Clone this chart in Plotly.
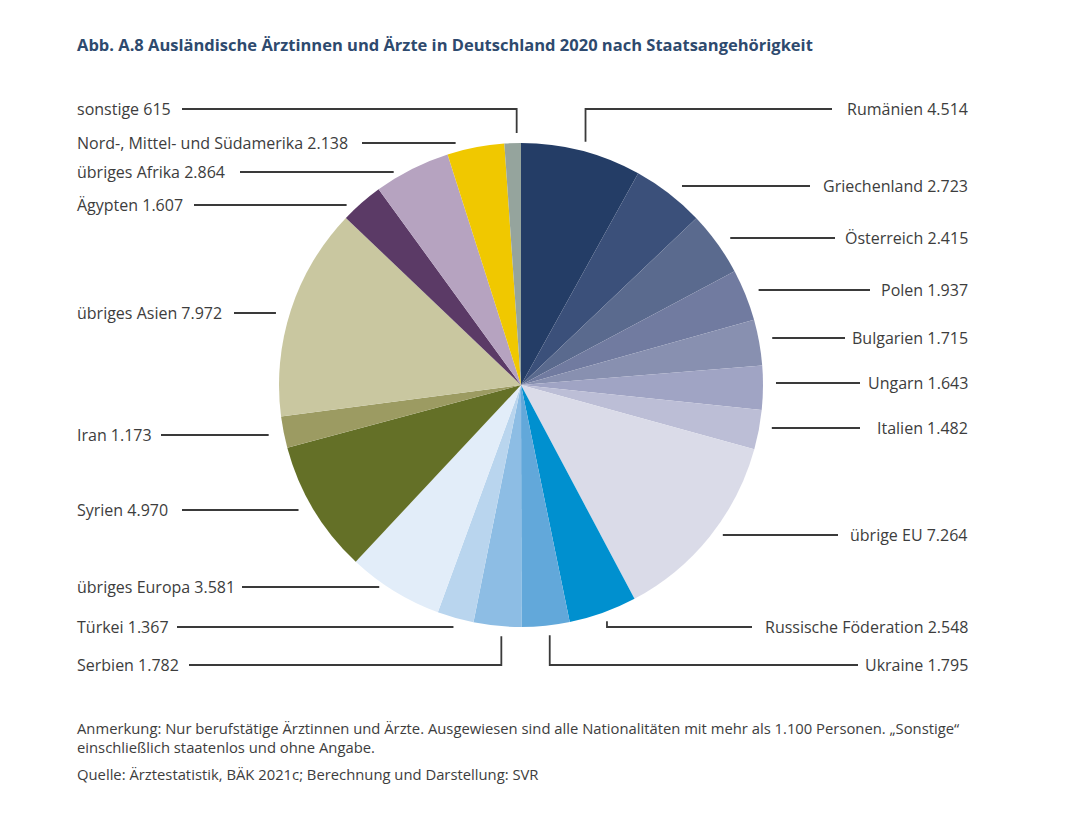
import math
import plotly.graph_objects as go

# ---------------- data ----------------
categories = [
    "Rumänien", "Griechenland", "Österreich", "Polen", "Bulgarien", "Ungarn",
    "Italien", "übrige EU", "Russische Föderation", "Ukraine", "Serbien",
    "Türkei", "übriges Europa", "Syrien", "Iran", "übriges Asien", "Ägypten",
    "übriges Afrika", "Nord-, Mittel- und Südamerika", "sonstige",
]
values = [4514, 2723, 2415, 1937, 1715, 1643, 1482, 7264, 2548, 1795, 1782,
          1367, 3581, 4970, 1173, 7972, 1607, 2864, 2138, 615]
value_labels = ["4.514", "2.723", "2.415", "1.937", "1.715", "1.643", "1.482",
                "7.264", "2.548", "1.795", "1.782", "1.367", "3.581", "4.970",
                "1.173", "7.972", "1.607", "2.864", "2.138", "615"]

# ---------------- styles / layout ----------------
colors = ["#243d66", "#3b507a", "#5a6a8e", "#717ba0", "#8890b0", "#a0a4c4",
          "#bcbed6", "#dadbe8", "#0090cf", "#62a8da", "#8dbde4", "#b9d5ee",
          "#e2edf9", "#647027", "#9c9b62", "#c9c7a0", "#5b3a66", "#b6a3c0",
          "#f0c800", "#95a49d"]
side = ["R", "R", "R", "R", "R", "R", "R", "R", "R", "R",
        "L", "L", "L", "L", "L", "L", "L", "L", "L", "L"]
leader = ["V", "H", "H", "H", "H", "H", "H", "H", "V", "V",
          "V", "H", "H", "H", "H", "H", "H", "H", "H", "V"]
label_y = [109, 186, 238, 290, 338, 383, 428, 535, 627, 665,
           665, 627, 587, 510, 435, 313, 205, 172, 143, 109]
line_outer_x = [832, 810, 835, 870, 845, 860, 860, 838, 752, 858,
                189, 177, 242, 182, 161, 234, 194, 240, 362, 182]
line_gap = [0, 13, 13, 13, 13, 13, 13, 13, 0, 0,
            0, 2, 15, 15, 15, 15, 15, 18, 20, 0]

W, H = 1080, 827
CX, CY, R = 521, 385, 242
LEFT_X, RIGHT_X = 75, 970
TEXT = "#3d3d3d"
LINE = "#3a3a3a"
FONT = "Open Sans"

fig = go.Figure()
fig.add_trace(go.Pie(
    labels=categories, values=values, sort=False, direction="clockwise",
    rotation=0, textinfo="none", hoverinfo="label+value",
    marker=dict(colors=colors, line=dict(width=0)),
    domain=dict(x=[(CX - R) / W, (CX + R) / W], y=[1 - (CY + R) / H, 1 - (CY - R) / H]),
    showlegend=False,
))

total = sum(values)
shapes = []
annotations = []
cum = 0
for i, v in enumerate(values):
    theta = 2 * math.pi * (cum + v / 2) / total
    cum += v
    px = CX + R * math.sin(theta)
    py = CY - R * math.cos(theta)
    ly = label_y[i]
    if leader[i] == "V":
        vx = px + 4
        dy = math.sqrt(max(R * R - (vx - CX) ** 2, 0))
        if ly < CY:
            vy = CY - dy - 10
        else:
            vy = CY + dy + 10
        path = f"M {line_outer_x[i]} {ly} L {vx} {ly} L {vx} {vy}"
    else:
        ix = px + line_gap[i] if side[i] == "R" else px - line_gap[i]
        path = f"M {line_outer_x[i]} {ly} L {ix} {ly}"
    shapes.append(dict(type="path", path=path, xref="x", yref="y",
                       line=dict(color=LINE, width=1.8)))
    txt = f"{categories[i]} {value_labels[i]}"
    annotations.append(dict(
        x=RIGHT_X if side[i] == "R" else LEFT_X, y=ly, xref="x", yref="y",
        text=txt, showarrow=False,
        xanchor="right" if side[i] == "R" else "left", yanchor="middle",
        font=dict(family=FONT, size=16, color=TEXT)))

annotations.append(dict(
    x=LEFT_X, y=44, xref="x", yref="y", showarrow=False, xanchor="left", yanchor="middle",
    text="<b>Abb. A.8 Ausländische Ärztinnen und Ärzte in Deutschland 2020 nach Staatsangehörigkeit</b>",
    font=dict(family=FONT, size=16.5, color="#2e4a6e")))
notes = [
    (728, "Anmerkung: Nur berufstätige Ärztinnen und Ärzte. Ausgewiesen sind alle Nationalitäten mit mehr als 1.100 Personen. „Sonstige“"),
    (747, "einschließlich staatenlos und ohne Angabe."),
    (774, "Quelle: Ärztestatistik, BÄK 2021c; Berechnung und Darstellung: SVR"),
]
for y, t in notes:
    annotations.append(dict(x=LEFT_X, y=y, xref="x", yref="y", showarrow=False,
                            xanchor="left", yanchor="middle", text=t,
                            font=dict(family=FONT, size=14.8, color=TEXT)))

fig.update_layout(
    width=W, height=H, margin=dict(l=0, r=0, t=0, b=0),
    paper_bgcolor="white", plot_bgcolor="rgba(0,0,0,0)",
    xaxis=dict(range=[0, W], visible=False, fixedrange=True),
    yaxis=dict(range=[H, 0], visible=False, fixedrange=True),
    shapes=shapes, annotations=annotations, showlegend=False,
)
fig.write_html("out.html")
